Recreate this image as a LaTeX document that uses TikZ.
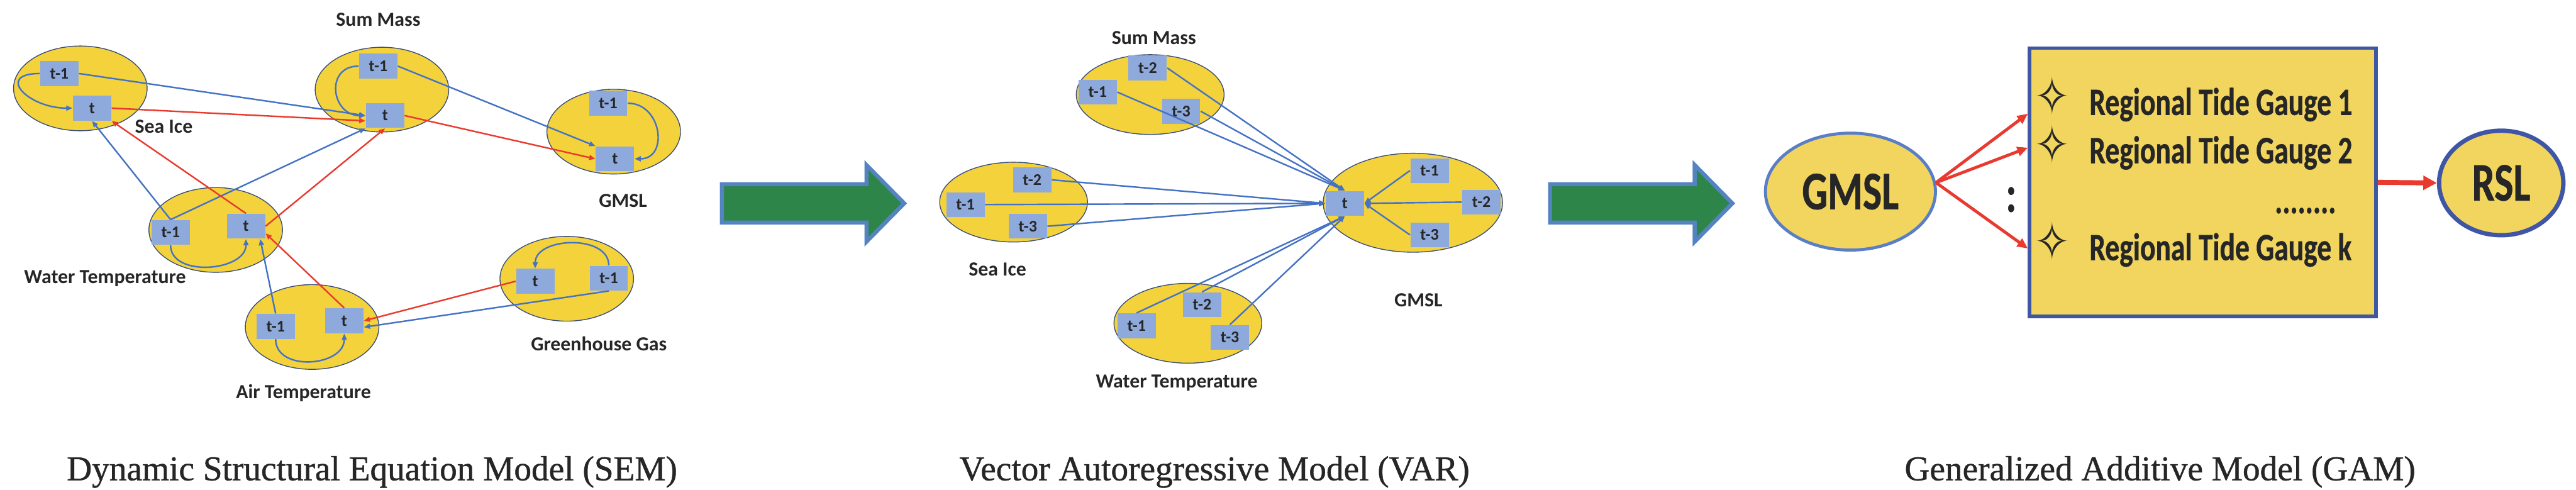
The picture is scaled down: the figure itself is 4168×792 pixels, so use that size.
\documentclass[tikz,border=0pt]{standalone}
\usepackage{fontspec}
\setmainfont{Liberation Serif}
\newfontfamily\capfont[FakeBold=0.8]{Liberation Serif}
\newfontfamily\labfont{Carlito}
\newfontfamily\gamfont[FakeStretch=0.74,FakeBold=0.6]{Carlito}
\newfontfamily\symfont[FakeStretch=0.8]{DejaVu Sans}
\usepackage{tikz}
\usetikzlibrary{shapes.geometric,arrows.meta}
\definecolor{blobyellow}{HTML}{F4D23C}
\definecolor{blobline}{HTML}{3A4F7A}
\definecolor{lagblue}{HTML}{8EA9DB}
\definecolor{inkgray}{HTML}{262626}
\definecolor{arrblue}{HTML}{4472C4}
\definecolor{arrred}{HTML}{E83A2F}
\definecolor{arrgreen}{HTML}{2E8549}
\definecolor{arrframe}{HTML}{5483C1}
\definecolor{gamyellow}{HTML}{F1D55F}
\definecolor{gamblue}{HTML}{5A7EC6}
\definecolor{rslblue}{HTML}{3F56A6}
\definecolor{boxnavy}{HTML}{3F57A3}

\begin{document}
\begin{tikzpicture}[x=0.01cm,y=0.01cm,
    semblob/.style={ellipse,draw=blobline,line width=0.4pt,fill=blobyellow,inner sep=0pt,
      minimum width=2.16cm,minimum height=1.37cm},
    varblob/.style={semblob,minimum width=2.39cm,minimum height=1.29cm},
    lagbox/.style={fill=lagblue,minimum width=0.62cm,minimum height=0.40cm,inner sep=0pt,
      text=inkgray,font=\labfont\bfseries\fontsize{7.5}{8}\selectfont},
    varname/.style={text=inkgray,font=\labfont\bfseries\fontsize{9.2}{10}\selectfont},
    bluearr/.style={draw=arrblue,line width=0.7pt,-{Triangle[length=0.1cm,width=0.08cm]}},
    redarr/.style={bluearr,draw=arrred},
    bigarrow/.style={fill=arrgreen,draw=arrframe,line width=1.85pt,line join=miter},
    gamblob/.style={ellipse,draw=gamblue,line width=1.4pt,fill=gamyellow,inner sep=0pt,
      text=inkgray,font=\gamfont\bfseries\fontsize{25}{27}\selectfont},
    gaugebox/.style={draw=boxnavy,line width=1.7pt,fill=gamyellow,
      minimum width=5.6cm,minimum height=4.34cm},
    gaugetext/.style={text=inkgray,inner sep=0pt,font=\gamfont\bfseries\fontsize{17.8}{19}\selectfont},
    starmark/.style={anchor=base,text=inkgray,inner sep=0pt,font=\symfont\fontsize{24}{26}\selectfont},
    gamarr/.style={draw=arrred,line width=1.4pt,-{Triangle[length=0.17cm,width=0.15cm]}},
    caption/.style={anchor=base,text=inkgray,font=\capfont\fontsize{16}{18}\selectfont}]
    \useasboundingbox (0,0) rectangle (4168,792);

    \node[semblob] (si) at (130,649) {};
    \node[semblob] (sm) at (618,647) {};
    \node[semblob] (gm) at (993,579) {};
    \node[semblob] (wt) at (349,420) {};
    \node[semblob] (at) at (505,263) {};
    \node[semblob] (gg) at (917,341) {};
    \node[lagbox] (si1) at (96,673) {t-1};
    \node[lagbox] (si0) at (149,617) {t};
    \node[lagbox] (sm1) at (612,685) {t-1};
    \node[lagbox] (sm0) at (623,605) {t};
    \node[lagbox] (gm1) at (984,625) {t-1};
    \node[lagbox] (gm0) at (995,535) {t};
    \node[lagbox] (wt1) at (276,416) {t-1};
    \node[lagbox] (wt0) at (398,426) {t};
    \node[lagbox] (at1) at (446,264) {t-1};
    \node[lagbox] (at0) at (557,273) {t};
    \node[lagbox] (gg0) at (866,337) {t};
    \node[lagbox] (gg1) at (985,342) {t-1};
    \node[varname] (siname) at (265,587) {Sea Ice};
    \node[varname] (smname) at (612,760) {Sum Mass};
    \node[varname] (gmname) at (1008,467) {GMSL};
    \node[varname] (wtname) at (170,342) {Water Temperature};
    \node[varname] (atname) at (491,156) {Air Temperature};
    \node[varname] (ggname) at (969,236) {Greenhouse Gas};

    \draw[bluearr] (si1.west) to[out=180,in=180,looseness=2.4] (si0.west);
    \draw[bluearr] (sm1.west) to[out=180,in=180,looseness=1.75] (sm0.west);
    \draw[bluearr] (gm1.east) to[out=0,in=0,looseness=1.57] (gm0.east);
    \draw[bluearr] (wt1.south) to[out=-90,in=-90,looseness=1.1] (wt0.south);
    \draw[bluearr] (at1.south) to[out=-90,in=-90,looseness=1.23] (at0.south);
    \draw[bluearr] (gg1.north) to[out=90,in=90,looseness=1.09] (gg0.north);
    \draw[bluearr] (si1.east) -- (sm0.west);
    \draw[redarr] (si0.east) -- (sm0.195);
    \draw[bluearr] (sm1.east) -- (gm0.north west);
    \draw[redarr] (sm0.east) -- (gm0.west);
    \draw[bluearr] (wt1.north) -- (si0.south);
    \draw[bluearr] (wt1.north) -- (sm0.south west);
    \draw[redarr] (wt0.north) -- (si0.south east);
    \draw[redarr] (wt0.east) -- (sm0.south);
    \draw[bluearr] (at1.north) -- (wt0.-42);
    \draw[redarr] (at0.north) -- (wt0.-20);
    \draw[redarr] (gg0.west) -- (at0.east);
    \draw[bluearr] (gg1.south) -- (at0.-18);

    \foreach \dx in {0,1340}
      \draw[bigarrow] (1168+\dx,494) -- (1402+\dx,494) -- (1402+\dx,525) -- (1463+\dx,463)
        -- (1402+\dx,401) -- (1402+\dx,432) -- (1168+\dx,432) -- cycle;

    \node[varblob] (vsm) at (1861,639) {};
    \node[varblob] (vsi) at (1640,465) {};
    \node[varblob] (vwt) at (1922,269) {};
    \node[varblob,minimum width=2.9cm,minimum height=1.6cm] (vgm) at (2286,464) {};
    \node[lagbox] (vsm2) at (1857,682) {t-2};
    \node[lagbox] (vsm1) at (1776,643) {t-1};
    \node[lagbox] (vsm3) at (1911,612) {t-3};
    \node[lagbox] (vsi2) at (1670,501) {t-2};
    \node[lagbox] (vsi1) at (1562,461) {t-1};
    \node[lagbox] (vsi3) at (1663,426) {t-3};
    \node[lagbox] (vwt1) at (1839,265) {t-1};
    \node[lagbox] (vwt2) at (1945,299) {t-2};
    \node[lagbox] (vwt3) at (1990,246) {t-3};
    \node[lagbox] (vgm0) at (2176,463) {t};
    \node[lagbox] (vgm1) at (2313,516) {t-1};
    \node[lagbox] (vgm2) at (2397,465) {t-2};
    \node[lagbox] (vgm3) at (2313,412) {t-3};
    \node[varname] (vsmname) at (1867,731) {Sum Mass};
    \node[varname] (vsiname) at (1614,356) {Sea Ice};
    \node[varname] (vgmname) at (2295,306) {GMSL};
    \node[varname] (vwtname) at (1904,173) {Water Temperature};
    \foreach \k in {1,2,3} {
      \draw[bluearr] (vsm\k.east) -- (vgm0.north);
      \draw[bluearr] (vsi\k.east) -- (vgm0.west);
      \draw[bluearr] (vwt\k.north) -- (vgm0.south);
      \draw[bluearr] (vgm\k.west) -- (vgm0.east);
    }

    \node[gaugebox] (gauges) at (3564,497) {};
    \node[gamblob,minimum width=2.75cm,minimum height=1.89cm] (ggm) at (2994,482) {GMSL};
    \node[gamblob,draw=rslblue,line width=2pt,minimum width=2.01cm,minimum height=1.69cm] (rsl) at (4047,496) {RSL};
    \foreach \y/\k [count=\i] in {606/1,528/2,371/k} {
      \node[starmark] (star\i) at (3321,\y) {✧};
      \node[gaugetext,anchor=base west] (gauge\i) at (3380,\y) {Regional Tide Gauge \k};
    }
    \node[gaugetext,anchor=base west] (gaugedots) at (3680,447) {........};
    \node[text=inkgray,font=\gamfont\bfseries\fontsize{24}{24}\selectfont] (skip) at (3254,469) {:};
    \coordinate (in1) at (3281,608);
    \coordinate (in2) at (3281,553);
    \coordinate (ink) at (3281,390);
    \foreach \c in {in1,in2,ink}
      \draw[gamarr] (ggm.6) -- (\c);
    \draw[gamarr,line width=2.3pt,-{Triangle[length=0.22cm,width=0.22cm]}] (gauges.east) -- (rsl.west);

    \node[caption] (semcap) at (602,15) {Dynamic Structural Equation Model (SEM)};
    \node[caption] (varcap) at (1965,15) {Vector Autoregressive Model (VAR)};
    \node[caption] (gamcap) at (3495,15) {Generalized Additive Model (GAM)};
\end{tikzpicture}
\end{document}
